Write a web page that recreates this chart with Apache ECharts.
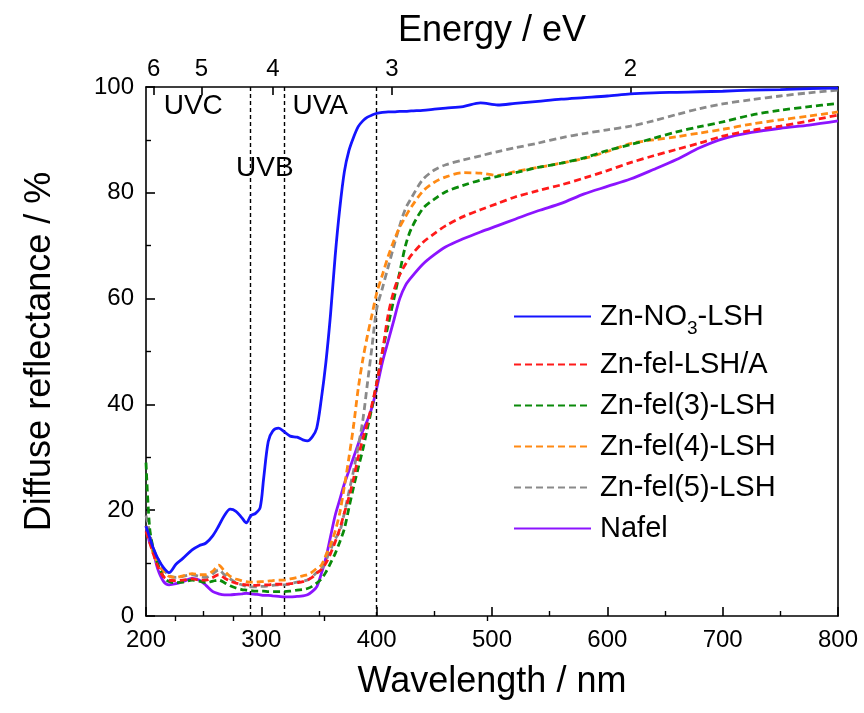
<!DOCTYPE html>
<html>
<head>
<meta charset="utf-8">
<title>Diffuse reflectance spectra</title>
<script src="https://cdn.jsdelivr.net/npm/echarts@6/dist/echarts.min.js"></script>
<style>
  html, body { margin: 0; padding: 0; background: #fff; }
  #chart { width: 864px; height: 713px; }
</style>
</head>
<body>
<div id="chart"></div>
<script>
// Wavelength grid (nm) shared by every spectrum
const wavelength = [200, 203, 206, 210, 215, 220, 226, 232, 240, 246, 252, 258, 263, 268, 273, 278, 283, 287, 291, 295,
  299, 302, 306, 310, 315, 320, 325, 331, 336, 340, 344, 348, 352, 356, 360, 364, 368, 372, 376, 380,
  384, 388, 392, 396, 400, 405, 410, 415, 420, 425, 430, 440, 450, 460, 475, 490, 505, 520, 540, 560,
  580, 600, 620, 640, 660, 680, 700, 725, 750, 775, 800];

// Diffuse reflectance (%) of each sample
const znNO3 = [17, 15, 13, 11, 9.2, 8.2, 9.8, 10.9, 12.5, 13.3, 13.8, 15.2, 17, 19, 20.2, 19.8, 18.6, 17.6, 19, 19.4,
  20.5, 26, 33, 35, 35.5, 34.8, 34, 33.8, 33.3, 33.1, 33.8, 35.5, 41, 48, 57, 68, 77, 84, 88, 90.5,
  92.5, 93.6, 94.3, 94.7, 95, 95.2, 95.3, 95.3, 95.4, 95.4, 95.5, 95.6, 95.8, 96, 96.3, 97, 96.6, 96.9, 97.3, 97.7,
  98, 98.3, 98.7, 98.9, 99, 99.1, 99.2, 99.4, 99.5, 99.7, 99.8];
const znFelA = [16, 14, 12, 9.5, 7.5, 6.8, 6.7, 6.8, 7, 6.8, 6.8, 7.3, 7.8, 7.2, 6.6, 6.2, 6, 5.9, 5.8, 5.8,
  5.9, 5.9, 5.9, 6, 6, 6, 6.1, 6.3, 6.5, 6.8, 7.3, 8.1, 8.8, 10, 11.8, 14, 16.5, 19.5, 22.5, 26,
  30, 33.5, 36.5, 40, 44, 50, 57, 61.5, 64.5, 66.5, 68.2, 70.6, 72.3, 73.8, 75.5, 76.8, 78, 79.2, 80.4, 81.5,
  82.8, 84.2, 85.7, 87, 88.2, 89.4, 90.7, 91.8, 92.6, 93.6, 94.7];
const znFel3 = [29, 17, 13, 10, 7.5, 6.5, 6.3, 6.4, 6.8, 6.6, 6.3, 6.6, 6.8, 6.3, 5.7, 5.3, 5, 4.9, 4.8, 4.7,
  4.7, 4.7, 4.6, 4.6, 4.6, 4.6, 4.7, 4.9, 5, 5.2, 5.6, 6.2, 7, 8.3, 10, 11.8, 14, 16.5, 20.5, 24.4,
  28, 31.5, 35.5, 39.5, 44, 50, 55, 60, 65, 70, 73.2, 77, 78.8, 80.2, 81.4, 82.4, 83.1, 83.8, 84.8, 85.6,
  86.6, 88, 89.1, 90.3, 91.5, 92.5, 93.4, 94.7, 95.6, 96.3, 96.9];
const znFel4 = [17, 15, 12, 10, 8.5, 7.5, 7.3, 7.6, 8, 7.8, 7.8, 8.5, 9.6, 8.5, 7.5, 7, 6.7, 6.5, 6.4, 6.4,
  6.5, 6.5, 6.6, 6.7, 6.8, 6.8, 7, 7.3, 7.6, 7.8, 8.3, 9, 9.6, 11.5, 13.5, 16, 19.5, 24.5, 30, 36,
  43, 48.5, 53, 57, 61, 64.5, 68, 71, 73.5, 75.5, 77.3, 80.3, 82, 83, 83.8, 83.7, 83.3, 84, 84.8, 85.6,
  86.5, 87.8, 89.3, 90, 90.6, 91.3, 92, 93, 93.8, 94.5, 95.3];
const znFel5 = [19, 16, 13, 11, 9, 7.6, 7.3, 7.5, 7.8, 7.5, 7.3, 8, 8.7, 7.8, 7, 6.3, 5.9, 5.6, 5.5, 5.5,
  5.6, 5.6, 5.7, 5.8, 5.9, 5.9, 6.1, 6.4, 6.6, 6.8, 7.4, 8.2, 8.8, 10.5, 12.5, 14.5, 16, 19.5, 23.5, 27.5,
  32, 37, 44, 51, 58, 62, 66, 70, 73.8, 77, 79, 82.5, 84.3, 85.3, 86.2, 87, 87.8, 88.5, 89.4, 90.4,
  91.2, 91.9, 92.6, 93.6, 94.8, 95.9, 96.8, 97.6, 98.3, 98.9, 99.4];
const nafel = [17, 14, 12.5, 9, 6.6, 5.9, 6.1, 6.5, 7.1, 6.8, 5.8, 4.6, 4.2, 4, 4, 4.1, 4.2, 4.3, 4.2, 4.1,
  4, 3.9, 3.9, 3.8, 3.7, 3.6, 3.6, 3.7, 3.8, 4, 4.6, 5.5, 8, 11, 15, 19, 22, 25, 27.5, 30,
  32.5, 35, 37, 39.5, 43, 48, 52, 56, 60, 62.5, 64, 66.5, 68.3, 69.8, 71.3, 72.6, 73.8, 75, 76.6, 78,
  79.8, 81.2, 82.6, 84.4, 86.3, 88.5, 90.2, 91.4, 92.2, 92.8, 93.6];

const seriesNames = ['Zn-NO3-LSH', 'Zn-fel-LSH/A', 'Zn-fel(3)-LSH', 'Zn-fel(4)-LSH', 'Zn-fel(5)-LSH', 'Nafel'];
const seriesValues = [znNO3, znFelA, znFel3, znFel4, znFel5, nafel];
const seriesColors = ['#1414ff', '#ff1a1a', '#0a8a0a', '#ff8a14', '#8a8a8a', '#8c14ff'];
const seriesDashed = [false, true, true, true, true, false];

// UV band boundaries (nm) and band names
const uvBounds = [290, 320, 400];
const uvNames = ['UVC', 'UVB', 'UVA'];

// Photon energy ticks on the top axis (eV); E = hc / λ
const hc = 1239.84;
const energyMajor = [6, 5, 4, 3, 2];
const energyMinor = [5.5, 4.5, 3.5, 2.5];

const xTicks = [200, 300, 400, 500, 600, 700, 800];
const yTicks = [0, 20, 40, 60, 80, 100];

const FONT = "'Liberation Sans', Arial, sans-serif";

const lineSeries = seriesNames.map((name, i) => ({
  name: name,
  type: 'line',
  xAxisIndex: 0,
  yAxisIndex: 0,
  data: wavelength.map((w, k) => [w, seriesValues[i][k]]),
  showSymbol: false,
  symbol: 'none',
  smooth: 0.3,
  z: 3 + (seriesNames.length - i),
  lineStyle: {
    color: seriesColors[i],
    width: 2.8,
    type: seriesDashed[i] ? [7, 4] : 'solid'
  },
  itemStyle: { color: seriesColors[i] }
}));

// Helper series holding the UV boundary lines and band labels
const uvSeries = {
  name: 'uv',
  type: 'line',
  data: [],
  xAxisIndex: 0,
  yAxisIndex: 0,
  silent: true,
  z: 2,
  markLine: {
    silent: true,
    symbol: 'none',
    label: { show: false },
    lineStyle: { color: '#000', width: 1.4, type: [4, 3] },
    data: uvBounds.map(b => ({ xAxis: b }))
  },
  markPoint: {
    silent: true,
    symbol: 'circle',
    symbolSize: 0,
    label: {
      show: true,
      position: 'inside',
      color: '#000',
      fontSize: 28,
      fontFamily: FONT,
      formatter: p => p.name
    },
    data: [
      { name: uvNames[0], coord: [241, 96.4] },
      { name: uvNames[1], coord: [303, 84.7] },
      { name: uvNames[2], coord: [351, 96.4] }
    ]
  }
};

const chart = echarts.init(document.getElementById('chart'), null, { renderer: 'canvas' });

chart.setOption({
  animation: false,
  backgroundColor: '#fff',
  textStyle: { fontFamily: FONT },
  grid: { left: 146, right: 26, top: 87, bottom: 97, containLabel: false },
  legend: {
    orient: 'vertical',
    left: 508,
    top: 290,
    itemWidth: 77,
    itemHeight: 14,
    itemGap: 12,
    data: seriesNames,
    itemStyle: { color: 'rgba(0,0,0,0)', borderWidth: 0, opacity: 0 },
    textStyle: {
      fontFamily: FONT,
      fontSize: 29,
      color: '#000',
      padding: [0, 0, 0, 4],
      rich: {
        a: { fontFamily: FONT, fontSize: 29, color: '#000', lineHeight: 32 },
        s: { fontFamily: FONT, fontSize: 19, color: '#000', lineHeight: 19, padding: [24, 0, 0, 0] }
      }
    },
    formatter: name => name === 'Zn-NO3-LSH' ? '{a|Zn-NO}{s|3}{a|-LSH}' : name
  },
  xAxis: [
    {
      type: 'value',
      position: 'bottom',
      min: 200,
      max: 800,
      interval: 100,
      name: 'Wavelength / nm',
      nameLocation: 'middle',
      nameGap: 48,
      nameTextStyle: { fontFamily: FONT, fontSize: 36, color: '#000' },
      axisLine: { show: true, onZero: false, lineStyle: { color: '#000', width: 1.6 } },
      axisTick: { show: true, inside: true, length: 9, customValues: xTicks, lineStyle: { color: '#000', width: 1.6 } },
      minorTick: { show: true, splitNumber: 2, length: 5, lineStyle: { color: '#000', width: 1.4 } },
      axisLabel: { show: true, fontFamily: FONT, fontSize: 24, color: '#000', margin: 12 },
      splitLine: { show: false }
    },
    {
      type: 'value',
      position: 'top',
      min: 200,
      max: 800,
      name: 'Energy / eV',
      nameLocation: 'middle',
      nameGap: 38,
      nameTextStyle: { fontFamily: FONT, fontSize: 36, color: '#000' },
      axisLine: { show: true, onZero: false, lineStyle: { color: '#000', width: 1.6 } },
      axisTick: {
        show: true, inside: true, length: 8,
        customValues: energyMajor.map(e => hc / e),
        lineStyle: { color: '#000', width: 1.6 }
      },
      axisLabel: {
        show: true, fontFamily: FONT, fontSize: 24, color: '#000', margin: 6,
        customValues: energyMajor.map(e => hc / e),
        formatter: v => String(Math.round(hc / v))
      },
      splitLine: { show: false }
    },
    {
      type: 'value',
      position: 'top',
      min: 200,
      max: 800,
      axisLine: { show: false },
      axisTick: {
        show: true, inside: true, length: 5,
        customValues: energyMinor.map(e => hc / e),
        lineStyle: { color: '#000', width: 1.4 }
      },
      axisLabel: { show: false },
      splitLine: { show: false }
    }
  ],
  yAxis: [
    {
      type: 'value',
      position: 'left',
      min: 0,
      max: 100,
      interval: 20,
      name: 'Diffuse reflectance / %',
      nameLocation: 'middle',
      nameGap: 88,
      nameTextStyle: { fontFamily: FONT, fontSize: 36, color: '#000' },
      axisLine: { show: true, onZero: false, lineStyle: { color: '#000', width: 1.6 } },
      axisTick: { show: true, inside: true, length: 9, customValues: yTicks, lineStyle: { color: '#000', width: 1.6 } },
      minorTick: { show: true, splitNumber: 2, length: 5, lineStyle: { color: '#000', width: 1.4 } },
      axisLabel: { show: true, fontFamily: FONT, fontSize: 24, color: '#000', margin: 12 },
      splitLine: { show: false }
    },
    {
      type: 'value',
      position: 'right',
      min: 0,
      max: 100,
      axisLine: { show: true, onZero: false, lineStyle: { color: '#000', width: 1.6 } },
      axisTick: { show: false },
      axisLabel: { show: false },
      splitLine: { show: false }
    }
  ],
  series: [uvSeries].concat(lineSeries)
});
</script>
</body>
</html>
